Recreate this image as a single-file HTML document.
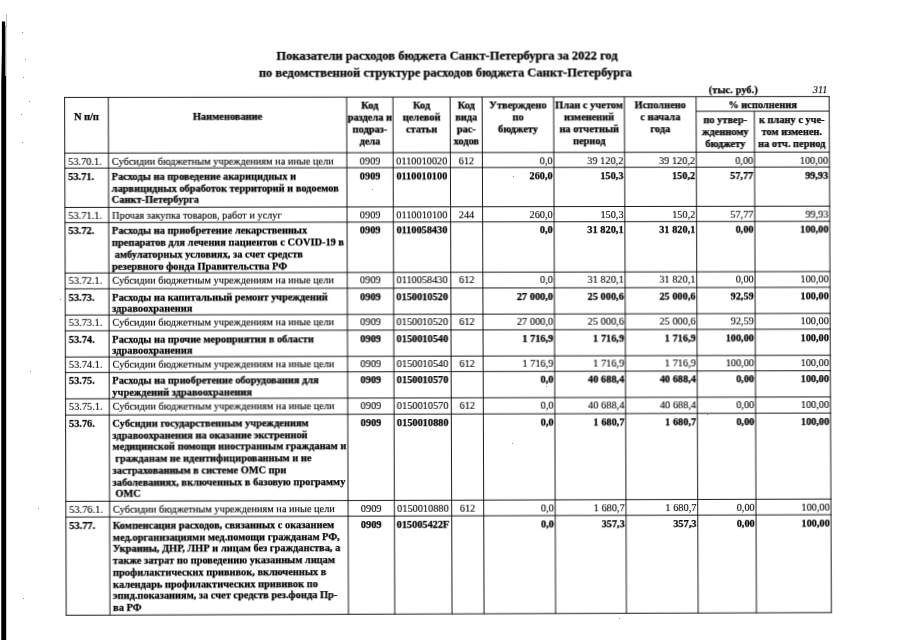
<!DOCTYPE html>
<html lang="ru"><head><meta charset="utf-8"><title>Показатели расходов бюджета Санкт-Петербурга за 2022 год</title>
<style>
html,body{margin:0;padding:0;background:#fff;}
body{width:904px;height:640px;position:relative;overflow:hidden;font-family:"Liberation Serif",serif;color:#000;}
.l{position:absolute;}
.t{position:absolute;white-space:nowrap;}
.t{-webkit-text-stroke:0.12px #000;}
.b{font-weight:bold;-webkit-text-stroke:0.25px #000;}
</style></head><body>
<svg width="20" height="640" viewBox="0 0 20 640" style="position:absolute;left:0;top:0"><polygon points="1.9,21.5 5.1,21.5 5.1,76 6.2,76 6.2,640 1.25,640 1.25,84 1.9,50" fill="#000"/><rect x="5.1" y="26" width="1.2" height="50" fill="#8c8c8c"/><rect x="6.1" y="14" width="0.5" height="13" fill="#777"/></svg>
<div class="l" style="left:22px;top:32px;width:1px;height:1px;background:#8a8a8a"></div>
<div class="l" style="left:25px;top:59px;width:1px;height:1px;background:#8a8a8a"></div>
<div class="l" style="left:23px;top:77px;width:1px;height:1px;background:#8a8a8a"></div>
<div class="l" style="left:29px;top:101px;width:1px;height:1px;background:#8a8a8a"></div>
<div class="l" style="left:21px;top:114px;width:1px;height:1px;background:#8a8a8a"></div>
<div class="l" style="left:22px;top:142px;width:1px;height:1px;background:#8a8a8a"></div>
<div class="l" style="left:38px;top:508px;width:1px;height:1px;background:#8a8a8a"></div>
<div class="l" style="left:23px;top:598px;width:1px;height:1px;background:#8a8a8a"></div>
<div class="l" style="left:372px;top:189px;width:1px;height:1px;background:#8a8a8a"></div>
<div class="l" style="left:513px;top:176px;width:1px;height:1px;background:#8a8a8a"></div>
<div class="l" style="left:60px;top:299px;width:1px;height:1px;background:#8a8a8a"></div>
<div class="l" style="left:30px;top:371px;width:1px;height:1px;background:#8a8a8a"></div>
<div class="l" style="left:546px;top:386px;width:1px;height:1px;background:#8a8a8a"></div>
<div class="l" style="left:512px;top:443px;width:1px;height:1px;background:#8a8a8a"></div>
<div class="l" style="left:707px;top:414px;width:1px;height:1px;background:#8a8a8a"></div>
<div class="l" style="left:619px;top:618px;width:1px;height:1px;background:#8a8a8a"></div>
<div id="pg" style="position:absolute;left:0;top:0;width:904px;height:640px;transform-origin:0 0;transform:matrix3d(1.00392507,-0.00073745108,0,4.55757736e-06,0.0029887496,0.999201834,0,-1.53387719e-06,0,0,1,0,-0.53564426,0.139623742,0,1);filter:contrast(1.6);">
<svg width="904" height="640" viewBox="0 0 904 640" style="position:absolute;left:0;top:0" shape-rendering="geometricPrecision">
<line x1="64.12" y1="97.43" x2="829.68" y2="97.43" stroke="#262626" stroke-width="0.9"/>
<line x1="64.12" y1="153.17" x2="829.68" y2="153.17" stroke="#262626" stroke-width="0.9"/>
<line x1="64.12" y1="168.18" x2="829.68" y2="168.18" stroke="#262626" stroke-width="0.9"/>
<line x1="64.12" y1="207.51" x2="829.68" y2="207.51" stroke="#262626" stroke-width="0.9"/>
<line x1="64.12" y1="222.71" x2="829.68" y2="222.71" stroke="#262626" stroke-width="0.9"/>
<line x1="64.12" y1="273.14" x2="829.68" y2="273.14" stroke="#262626" stroke-width="0.9"/>
<line x1="64.12" y1="288.94" x2="829.68" y2="288.94" stroke="#262626" stroke-width="0.9"/>
<line x1="64.12" y1="315.15" x2="829.68" y2="315.15" stroke="#262626" stroke-width="0.9"/>
<line x1="64.12" y1="330.95" x2="829.68" y2="330.95" stroke="#262626" stroke-width="0.9"/>
<line x1="64.12" y1="357.15" x2="829.68" y2="357.15" stroke="#262626" stroke-width="0.9"/>
<line x1="64.12" y1="372.65" x2="829.68" y2="372.65" stroke="#262626" stroke-width="0.9"/>
<line x1="64.12" y1="398.95" x2="829.68" y2="398.95" stroke="#262626" stroke-width="0.9"/>
<line x1="64.12" y1="415.15" x2="829.68" y2="415.15" stroke="#262626" stroke-width="0.9"/>
<line x1="64.12" y1="501.43" x2="829.68" y2="501.43" stroke="#262626" stroke-width="0.9"/>
<line x1="64.12" y1="517.13" x2="829.68" y2="517.13" stroke="#262626" stroke-width="0.9"/>
<line x1="64.12" y1="615.27" x2="829.68" y2="615.27" stroke="#262626" stroke-width="0.9"/>
<line x1="695.70" y1="112.08" x2="829.18" y2="112.08" stroke="#262626" stroke-width="0.9"/>
<line x1="64.62" y1="97.43" x2="64.62" y2="615.27" stroke="#262626" stroke-width="0.9"/>
<line x1="108.17" y1="97.43" x2="108.17" y2="615.27" stroke="#262626" stroke-width="0.9"/>
<line x1="346.03" y1="97.43" x2="346.03" y2="615.27" stroke="#262626" stroke-width="0.9"/>
<line x1="392.25" y1="97.43" x2="392.25" y2="615.27" stroke="#262626" stroke-width="0.9"/>
<line x1="449.48" y1="97.43" x2="449.48" y2="615.27" stroke="#262626" stroke-width="0.9"/>
<line x1="481.49" y1="97.43" x2="481.49" y2="615.27" stroke="#262626" stroke-width="0.9"/>
<line x1="553.03" y1="97.43" x2="553.03" y2="615.27" stroke="#262626" stroke-width="0.9"/>
<line x1="623.87" y1="97.43" x2="623.87" y2="615.27" stroke="#262626" stroke-width="0.9"/>
<line x1="695.70" y1="97.43" x2="695.70" y2="615.27" stroke="#262626" stroke-width="0.9"/>
<line x1="754.05" y1="112.08" x2="754.05" y2="615.27" stroke="#262626" stroke-width="0.9"/>
<line x1="829.18" y1="97.43" x2="829.18" y2="615.27" stroke="#262626" stroke-width="0.9"/>
</svg>
<div class="t b" style="left:146.67px;width:600.00px;top:47.54px;text-align:center;font-size:12.5px;line-height:17px;">Показатели расходов бюджета Санкт-Петербурга за 2022 год</div>
<div class="t b" style="left:145.01px;width:600.00px;top:65.38px;text-align:center;font-size:12.5px;line-height:17px;">по ведомственной структуре расходов бюджета Санкт-Петербурга</div>
<div class="t b" style="left:708.46px;width:80.00px;top:84.88px;text-align:left;font-size:10.3px;line-height:11.78px;letter-spacing:0.12px;">(тыс. руб.)</div>
<div class="t" style="left:777.51px;width:50.00px;top:84.51px;text-align:right;font-size:10.3px;line-height:11.78px;font-style:italic;">311</div>
<div class="t b" style="left:54.62px;width:63.55px;top:111.20px;text-align:center;font-size:10.4px;line-height:11.78px;">N п/п</div>
<div class="t b" style="left:98.17px;width:257.86px;top:111.20px;text-align:center;font-size:10.4px;line-height:11.78px;">Наименование</div>
<div class="t b" style="left:336.03px;width:66.22px;top:99.70px;text-align:center;font-size:10.4px;line-height:11.78px;">Код</div>
<div class="t b" style="left:336.03px;width:66.22px;top:111.70px;text-align:center;font-size:10.4px;line-height:11.78px;">раздела и</div>
<div class="t b" style="left:336.03px;width:66.22px;top:123.70px;text-align:center;font-size:10.4px;line-height:11.78px;">подраз-</div>
<div class="t b" style="left:336.03px;width:66.22px;top:135.70px;text-align:center;font-size:10.4px;line-height:11.78px;">дела</div>
<div class="t b" style="left:382.25px;width:77.23px;top:99.70px;text-align:center;font-size:10.4px;line-height:11.78px;">Код</div>
<div class="t b" style="left:382.25px;width:77.23px;top:111.70px;text-align:center;font-size:10.4px;line-height:11.78px;">целевой</div>
<div class="t b" style="left:382.25px;width:77.23px;top:123.70px;text-align:center;font-size:10.4px;line-height:11.78px;">статьи</div>
<div class="t b" style="left:439.48px;width:52.00px;top:99.70px;text-align:center;font-size:10.4px;line-height:11.78px;">Код</div>
<div class="t b" style="left:439.48px;width:52.00px;top:111.70px;text-align:center;font-size:10.4px;line-height:11.78px;">вида</div>
<div class="t b" style="left:439.48px;width:52.00px;top:123.70px;text-align:center;font-size:10.4px;line-height:11.78px;">рас-</div>
<div class="t b" style="left:439.48px;width:52.00px;top:135.70px;text-align:center;font-size:10.4px;line-height:11.78px;">ходов</div>
<div class="t b" style="left:471.49px;width:91.54px;top:99.70px;text-align:center;font-size:10.4px;line-height:11.78px;">Утверждено</div>
<div class="t b" style="left:471.49px;width:91.54px;top:111.70px;text-align:center;font-size:10.4px;line-height:11.78px;">по</div>
<div class="t b" style="left:471.49px;width:91.54px;top:123.70px;text-align:center;font-size:10.4px;line-height:11.78px;">бюджету</div>
<div class="t b" style="left:543.03px;width:90.84px;top:99.70px;text-align:center;font-size:10.4px;line-height:11.78px;">План с учетом</div>
<div class="t b" style="left:543.03px;width:90.84px;top:111.70px;text-align:center;font-size:10.4px;line-height:11.78px;">изменений</div>
<div class="t b" style="left:543.03px;width:90.84px;top:123.70px;text-align:center;font-size:10.4px;line-height:11.78px;">на отчетный</div>
<div class="t b" style="left:543.03px;width:90.84px;top:135.70px;text-align:center;font-size:10.4px;line-height:11.78px;">период</div>
<div class="t b" style="left:613.87px;width:91.84px;top:99.70px;text-align:center;font-size:10.4px;line-height:11.78px;">Исполнено</div>
<div class="t b" style="left:613.87px;width:91.84px;top:111.70px;text-align:center;font-size:10.4px;line-height:11.78px;">с начала</div>
<div class="t b" style="left:613.87px;width:91.84px;top:123.70px;text-align:center;font-size:10.4px;line-height:11.78px;">года</div>
<div class="t b" style="left:685.70px;width:153.48px;top:99.90px;text-align:center;font-size:10.4px;line-height:11.78px;">% исполнения</div>
<div class="t b" style="left:685.70px;width:78.34px;top:115.10px;text-align:center;font-size:10.4px;line-height:11.78px;">по утвер-</div>
<div class="t b" style="left:685.70px;width:78.34px;top:127.10px;text-align:center;font-size:10.4px;line-height:11.78px;">жденному</div>
<div class="t b" style="left:685.70px;width:78.34px;top:139.10px;text-align:center;font-size:10.4px;line-height:11.78px;">бюджету</div>
<div class="t b" style="left:744.05px;width:95.13px;top:115.10px;text-align:center;font-size:10.4px;line-height:11.78px;">к плану с уче-</div>
<div class="t b" style="left:744.05px;width:95.13px;top:127.10px;text-align:center;font-size:10.4px;line-height:11.78px;">том изменен.</div>
<div class="t b" style="left:744.05px;width:95.13px;top:139.10px;text-align:center;font-size:10.4px;line-height:11.78px;">на отч. период</div>
<div class="t" style="left:68.02px;width:40.15px;top:155.50px;text-align:left;font-size:10.3px;line-height:11.78px;">53.70.1.</div>
<div class="t" style="left:111.57px;width:254.46px;top:155.50px;text-align:left;font-size:10.3px;line-height:11.78px;">Субсидии бюджетным учреждениям на иные цели</div>
<div class="t" style="left:346.03px;width:46.22px;top:155.50px;text-align:center;font-size:10.3px;line-height:11.78px;">0909</div>
<div class="t" style="left:387.25px;width:67.23px;top:155.50px;text-align:center;font-size:10.3px;line-height:11.78px;">0110010020</div>
<div class="t" style="left:449.48px;width:32.00px;top:155.50px;text-align:center;font-size:10.3px;line-height:11.78px;">612</div>
<div class="t" style="left:481.49px;width:70.24px;top:155.50px;text-align:right;font-size:10.3px;line-height:11.78px;word-spacing:0.2px;">0,0</div>
<div class="t" style="left:553.03px;width:69.54px;top:155.50px;text-align:right;font-size:10.3px;line-height:11.78px;word-spacing:0.2px;">39 120,2</div>
<div class="t" style="left:623.87px;width:70.54px;top:155.50px;text-align:right;font-size:10.3px;line-height:11.78px;word-spacing:0.2px;">39 120,2</div>
<div class="t" style="left:695.70px;width:57.04px;top:155.50px;text-align:right;font-size:10.3px;line-height:11.78px;word-spacing:0.2px;">0,00</div>
<div class="t" style="left:754.05px;width:73.83px;top:155.50px;text-align:right;font-size:10.3px;line-height:11.78px;word-spacing:0.2px;">100,00</div>
<div class="t b" style="left:68.02px;width:40.15px;top:170.82px;text-align:left;font-size:10.3px;line-height:11.78px;">53.71.</div>
<div class="t b" style="left:111.37px;width:254.66px;top:170.79px;text-align:left;font-size:10.37px;line-height:11.78px;">Расходы на проведение акарицидных и</div>
<div class="t b" style="left:111.37px;width:254.66px;top:182.57px;text-align:left;font-size:10.37px;line-height:11.78px;">ларвицидных обработок территорий и водоемов</div>
<div class="t b" style="left:111.37px;width:254.66px;top:194.35px;text-align:left;font-size:10.37px;line-height:11.78px;">Санкт-Петербурга</div>
<div class="t b" style="left:346.03px;width:46.22px;top:170.82px;text-align:center;font-size:10.3px;line-height:11.78px;">0909</div>
<div class="t b" style="left:387.25px;width:67.23px;top:170.82px;text-align:center;font-size:10.3px;line-height:11.78px;">0110010100</div>
<div class="t b" style="left:481.49px;width:70.24px;top:170.82px;text-align:right;font-size:10.3px;line-height:11.78px;word-spacing:0.2px;">260,0</div>
<div class="t b" style="left:553.03px;width:69.54px;top:170.82px;text-align:right;font-size:10.3px;line-height:11.78px;word-spacing:0.2px;">150,3</div>
<div class="t b" style="left:623.87px;width:70.54px;top:170.82px;text-align:right;font-size:10.3px;line-height:11.78px;word-spacing:0.2px;">150,2</div>
<div class="t b" style="left:695.70px;width:57.04px;top:170.82px;text-align:right;font-size:10.3px;line-height:11.78px;word-spacing:0.2px;">57,77</div>
<div class="t b" style="left:754.05px;width:73.83px;top:170.82px;text-align:right;font-size:10.3px;line-height:11.78px;word-spacing:0.2px;">99,93</div>
<div class="t" style="left:68.02px;width:40.15px;top:209.84px;text-align:left;font-size:10.3px;line-height:11.78px;">53.71.1.</div>
<div class="t" style="left:111.57px;width:254.46px;top:209.84px;text-align:left;font-size:10.3px;line-height:11.78px;">Прочая закупка товаров, работ и услуг</div>
<div class="t" style="left:346.03px;width:46.22px;top:209.84px;text-align:center;font-size:10.3px;line-height:11.78px;">0909</div>
<div class="t" style="left:387.25px;width:67.23px;top:209.84px;text-align:center;font-size:10.3px;line-height:11.78px;">0110010100</div>
<div class="t" style="left:449.48px;width:32.00px;top:209.84px;text-align:center;font-size:10.3px;line-height:11.78px;">244</div>
<div class="t" style="left:481.49px;width:70.24px;top:209.84px;text-align:right;font-size:10.3px;line-height:11.78px;word-spacing:0.2px;">260,0</div>
<div class="t" style="left:553.03px;width:69.54px;top:209.84px;text-align:right;font-size:10.3px;line-height:11.78px;word-spacing:0.2px;">150,3</div>
<div class="t" style="left:623.87px;width:70.54px;top:209.84px;text-align:right;font-size:10.3px;line-height:11.78px;word-spacing:0.2px;">150,2</div>
<div class="t" style="left:695.70px;width:57.04px;top:209.84px;text-align:right;font-size:10.3px;line-height:11.78px;word-spacing:0.2px;">57,77</div>
<div class="t" style="left:754.05px;width:73.83px;top:209.84px;text-align:right;font-size:10.3px;line-height:11.78px;word-spacing:0.2px;">99,93</div>
<div class="t b" style="left:68.02px;width:40.15px;top:225.35px;text-align:left;font-size:10.3px;line-height:11.78px;">53.72.</div>
<div class="t b" style="left:111.37px;width:254.66px;top:225.32px;text-align:left;font-size:10.37px;line-height:11.78px;">Расходы на приобретение лекарственных</div>
<div class="t b" style="left:111.37px;width:254.66px;top:237.10px;text-align:left;font-size:10.37px;line-height:11.78px;">препаратов для лечения пациентов с COVID-19 в</div>
<div class="t b" style="left:111.37px;width:254.66px;top:248.88px;text-align:left;font-size:10.37px;line-height:11.78px;">&nbsp;амбулаторных условиях, за счет средств</div>
<div class="t b" style="left:111.37px;width:254.66px;top:260.66px;text-align:left;font-size:10.37px;line-height:11.78px;">резервного фонда Правительства РФ</div>
<div class="t b" style="left:346.03px;width:46.22px;top:225.35px;text-align:center;font-size:10.3px;line-height:11.78px;">0909</div>
<div class="t b" style="left:387.25px;width:67.23px;top:225.35px;text-align:center;font-size:10.3px;line-height:11.78px;">0110058430</div>
<div class="t b" style="left:481.49px;width:70.24px;top:225.35px;text-align:right;font-size:10.3px;line-height:11.78px;word-spacing:0.2px;">0,0</div>
<div class="t b" style="left:553.03px;width:69.54px;top:225.35px;text-align:right;font-size:10.3px;line-height:11.78px;word-spacing:0.2px;">31 820,1</div>
<div class="t b" style="left:623.87px;width:70.54px;top:225.35px;text-align:right;font-size:10.3px;line-height:11.78px;word-spacing:0.2px;">31 820,1</div>
<div class="t b" style="left:695.70px;width:57.04px;top:225.35px;text-align:right;font-size:10.3px;line-height:11.78px;word-spacing:0.2px;">0,00</div>
<div class="t b" style="left:754.05px;width:73.83px;top:225.35px;text-align:right;font-size:10.3px;line-height:11.78px;word-spacing:0.2px;">100,00</div>
<div class="t" style="left:68.02px;width:40.15px;top:275.47px;text-align:left;font-size:10.3px;line-height:11.78px;">53.72.1.</div>
<div class="t" style="left:111.57px;width:254.46px;top:275.47px;text-align:left;font-size:10.3px;line-height:11.78px;">Субсидии бюджетным учреждениям на иные цели</div>
<div class="t" style="left:346.03px;width:46.22px;top:275.47px;text-align:center;font-size:10.3px;line-height:11.78px;">0909</div>
<div class="t" style="left:387.25px;width:67.23px;top:275.47px;text-align:center;font-size:10.3px;line-height:11.78px;">0110058430</div>
<div class="t" style="left:449.48px;width:32.00px;top:275.47px;text-align:center;font-size:10.3px;line-height:11.78px;">612</div>
<div class="t" style="left:481.49px;width:70.24px;top:275.47px;text-align:right;font-size:10.3px;line-height:11.78px;word-spacing:0.2px;">0,0</div>
<div class="t" style="left:553.03px;width:69.54px;top:275.47px;text-align:right;font-size:10.3px;line-height:11.78px;word-spacing:0.2px;">31 820,1</div>
<div class="t" style="left:623.87px;width:70.54px;top:275.47px;text-align:right;font-size:10.3px;line-height:11.78px;word-spacing:0.2px;">31 820,1</div>
<div class="t" style="left:695.70px;width:57.04px;top:275.47px;text-align:right;font-size:10.3px;line-height:11.78px;word-spacing:0.2px;">0,00</div>
<div class="t" style="left:754.05px;width:73.83px;top:275.47px;text-align:right;font-size:10.3px;line-height:11.78px;word-spacing:0.2px;">100,00</div>
<div class="t b" style="left:68.02px;width:40.15px;top:291.57px;text-align:left;font-size:10.3px;line-height:11.78px;">53.73.</div>
<div class="t b" style="left:111.37px;width:254.66px;top:291.55px;text-align:left;font-size:10.37px;line-height:11.78px;">Расходы на капитальный ремонт учреждений</div>
<div class="t b" style="left:111.37px;width:254.66px;top:303.33px;text-align:left;font-size:10.37px;line-height:11.78px;">здравоохранения</div>
<div class="t b" style="left:346.03px;width:46.22px;top:291.57px;text-align:center;font-size:10.3px;line-height:11.78px;">0909</div>
<div class="t b" style="left:387.25px;width:67.23px;top:291.57px;text-align:center;font-size:10.3px;line-height:11.78px;">0150010520</div>
<div class="t b" style="left:481.49px;width:70.24px;top:291.57px;text-align:right;font-size:10.3px;line-height:11.78px;word-spacing:0.2px;">27 000,0</div>
<div class="t b" style="left:553.03px;width:69.54px;top:291.57px;text-align:right;font-size:10.3px;line-height:11.78px;word-spacing:0.2px;">25 000,6</div>
<div class="t b" style="left:623.87px;width:70.54px;top:291.57px;text-align:right;font-size:10.3px;line-height:11.78px;word-spacing:0.2px;">25 000,6</div>
<div class="t b" style="left:695.70px;width:57.04px;top:291.57px;text-align:right;font-size:10.3px;line-height:11.78px;word-spacing:0.2px;">92,59</div>
<div class="t b" style="left:754.05px;width:73.83px;top:291.57px;text-align:right;font-size:10.3px;line-height:11.78px;word-spacing:0.2px;">100,00</div>
<div class="t" style="left:68.02px;width:40.15px;top:317.48px;text-align:left;font-size:10.3px;line-height:11.78px;">53.73.1.</div>
<div class="t" style="left:111.57px;width:254.46px;top:317.48px;text-align:left;font-size:10.3px;line-height:11.78px;">Субсидии бюджетным учреждениям на иные цели</div>
<div class="t" style="left:346.03px;width:46.22px;top:317.48px;text-align:center;font-size:10.3px;line-height:11.78px;">0909</div>
<div class="t" style="left:387.25px;width:67.23px;top:317.48px;text-align:center;font-size:10.3px;line-height:11.78px;">0150010520</div>
<div class="t" style="left:449.48px;width:32.00px;top:317.48px;text-align:center;font-size:10.3px;line-height:11.78px;">612</div>
<div class="t" style="left:481.49px;width:70.24px;top:317.48px;text-align:right;font-size:10.3px;line-height:11.78px;word-spacing:0.2px;">27 000,0</div>
<div class="t" style="left:553.03px;width:69.54px;top:317.48px;text-align:right;font-size:10.3px;line-height:11.78px;word-spacing:0.2px;">25 000,6</div>
<div class="t" style="left:623.87px;width:70.54px;top:317.48px;text-align:right;font-size:10.3px;line-height:11.78px;word-spacing:0.2px;">25 000,6</div>
<div class="t" style="left:695.70px;width:57.04px;top:317.48px;text-align:right;font-size:10.3px;line-height:11.78px;word-spacing:0.2px;">92,59</div>
<div class="t" style="left:754.05px;width:73.83px;top:317.48px;text-align:right;font-size:10.3px;line-height:11.78px;word-spacing:0.2px;">100,00</div>
<div class="t b" style="left:68.02px;width:40.15px;top:333.58px;text-align:left;font-size:10.3px;line-height:11.78px;">53.74.</div>
<div class="t b" style="left:111.37px;width:254.66px;top:333.56px;text-align:left;font-size:10.37px;line-height:11.78px;">Расходы на прочие мероприятия в области</div>
<div class="t b" style="left:111.37px;width:254.66px;top:345.34px;text-align:left;font-size:10.37px;line-height:11.78px;">здравоохранения</div>
<div class="t b" style="left:346.03px;width:46.22px;top:333.58px;text-align:center;font-size:10.3px;line-height:11.78px;">0909</div>
<div class="t b" style="left:387.25px;width:67.23px;top:333.58px;text-align:center;font-size:10.3px;line-height:11.78px;">0150010540</div>
<div class="t b" style="left:481.49px;width:70.24px;top:333.58px;text-align:right;font-size:10.3px;line-height:11.78px;word-spacing:0.2px;">1 716,9</div>
<div class="t b" style="left:553.03px;width:69.54px;top:333.58px;text-align:right;font-size:10.3px;line-height:11.78px;word-spacing:0.2px;">1 716,9</div>
<div class="t b" style="left:623.87px;width:70.54px;top:333.58px;text-align:right;font-size:10.3px;line-height:11.78px;word-spacing:0.2px;">1 716,9</div>
<div class="t b" style="left:695.70px;width:57.04px;top:333.58px;text-align:right;font-size:10.3px;line-height:11.78px;word-spacing:0.2px;">100,00</div>
<div class="t b" style="left:754.05px;width:73.83px;top:333.58px;text-align:right;font-size:10.3px;line-height:11.78px;word-spacing:0.2px;">100,00</div>
<div class="t" style="left:68.02px;width:40.15px;top:359.49px;text-align:left;font-size:10.3px;line-height:11.78px;">53.74.1.</div>
<div class="t" style="left:111.57px;width:254.46px;top:359.49px;text-align:left;font-size:10.3px;line-height:11.78px;">Субсидии бюджетным учреждениям на иные цели</div>
<div class="t" style="left:346.03px;width:46.22px;top:359.49px;text-align:center;font-size:10.3px;line-height:11.78px;">0909</div>
<div class="t" style="left:387.25px;width:67.23px;top:359.49px;text-align:center;font-size:10.3px;line-height:11.78px;">0150010540</div>
<div class="t" style="left:449.48px;width:32.00px;top:359.49px;text-align:center;font-size:10.3px;line-height:11.78px;">612</div>
<div class="t" style="left:481.49px;width:70.24px;top:359.49px;text-align:right;font-size:10.3px;line-height:11.78px;word-spacing:0.2px;">1 716,9</div>
<div class="t" style="left:553.03px;width:69.54px;top:359.49px;text-align:right;font-size:10.3px;line-height:11.78px;word-spacing:0.2px;">1 716,9</div>
<div class="t" style="left:623.87px;width:70.54px;top:359.49px;text-align:right;font-size:10.3px;line-height:11.78px;word-spacing:0.2px;">1 716,9</div>
<div class="t" style="left:695.70px;width:57.04px;top:359.49px;text-align:right;font-size:10.3px;line-height:11.78px;word-spacing:0.2px;">100,00</div>
<div class="t" style="left:754.05px;width:73.83px;top:359.49px;text-align:right;font-size:10.3px;line-height:11.78px;word-spacing:0.2px;">100,00</div>
<div class="t b" style="left:68.02px;width:40.15px;top:375.29px;text-align:left;font-size:10.3px;line-height:11.78px;">53.75.</div>
<div class="t b" style="left:111.37px;width:254.66px;top:375.26px;text-align:left;font-size:10.37px;line-height:11.78px;">Расходы на приобретение оборудования для</div>
<div class="t b" style="left:111.37px;width:254.66px;top:387.04px;text-align:left;font-size:10.37px;line-height:11.78px;">учреждений здравоохранения</div>
<div class="t b" style="left:346.03px;width:46.22px;top:375.29px;text-align:center;font-size:10.3px;line-height:11.78px;">0909</div>
<div class="t b" style="left:387.25px;width:67.23px;top:375.29px;text-align:center;font-size:10.3px;line-height:11.78px;">0150010570</div>
<div class="t b" style="left:481.49px;width:70.24px;top:375.29px;text-align:right;font-size:10.3px;line-height:11.78px;word-spacing:0.2px;">0,0</div>
<div class="t b" style="left:553.03px;width:69.54px;top:375.29px;text-align:right;font-size:10.3px;line-height:11.78px;word-spacing:0.2px;">40 688,4</div>
<div class="t b" style="left:623.87px;width:70.54px;top:375.29px;text-align:right;font-size:10.3px;line-height:11.78px;word-spacing:0.2px;">40 688,4</div>
<div class="t b" style="left:695.70px;width:57.04px;top:375.29px;text-align:right;font-size:10.3px;line-height:11.78px;word-spacing:0.2px;">0,00</div>
<div class="t b" style="left:754.05px;width:73.83px;top:375.29px;text-align:right;font-size:10.3px;line-height:11.78px;word-spacing:0.2px;">100,00</div>
<div class="t" style="left:68.02px;width:40.15px;top:401.29px;text-align:left;font-size:10.3px;line-height:11.78px;">53.75.1.</div>
<div class="t" style="left:111.57px;width:254.46px;top:401.29px;text-align:left;font-size:10.3px;line-height:11.78px;">Субсидии бюджетным учреждениям на иные цели</div>
<div class="t" style="left:346.03px;width:46.22px;top:401.29px;text-align:center;font-size:10.3px;line-height:11.78px;">0909</div>
<div class="t" style="left:387.25px;width:67.23px;top:401.29px;text-align:center;font-size:10.3px;line-height:11.78px;">0150010570</div>
<div class="t" style="left:449.48px;width:32.00px;top:401.29px;text-align:center;font-size:10.3px;line-height:11.78px;">612</div>
<div class="t" style="left:481.49px;width:70.24px;top:401.29px;text-align:right;font-size:10.3px;line-height:11.78px;word-spacing:0.2px;">0,0</div>
<div class="t" style="left:553.03px;width:69.54px;top:401.29px;text-align:right;font-size:10.3px;line-height:11.78px;word-spacing:0.2px;">40 688,4</div>
<div class="t" style="left:623.87px;width:70.54px;top:401.29px;text-align:right;font-size:10.3px;line-height:11.78px;word-spacing:0.2px;">40 688,4</div>
<div class="t" style="left:695.70px;width:57.04px;top:401.29px;text-align:right;font-size:10.3px;line-height:11.78px;word-spacing:0.2px;">0,00</div>
<div class="t" style="left:754.05px;width:73.83px;top:401.29px;text-align:right;font-size:10.3px;line-height:11.78px;word-spacing:0.2px;">100,00</div>
<div class="t b" style="left:68.02px;width:40.15px;top:417.79px;text-align:left;font-size:10.3px;line-height:11.78px;">53.76.</div>
<div class="t b" style="left:111.37px;width:254.66px;top:417.76px;text-align:left;font-size:10.37px;line-height:11.78px;">Субсидии государственным учреждениям</div>
<div class="t b" style="left:111.37px;width:254.66px;top:429.54px;text-align:left;font-size:10.37px;line-height:11.78px;">здравоохранения на оказание экстренной</div>
<div class="t b" style="left:111.37px;width:254.66px;top:441.32px;text-align:left;font-size:10.37px;line-height:11.78px;">медицинской помощи иностранным гражданам и</div>
<div class="t b" style="left:111.37px;width:254.66px;top:453.10px;text-align:left;font-size:10.37px;line-height:11.78px;">&nbsp;гражданам не идентифицированным и не</div>
<div class="t b" style="left:111.37px;width:254.66px;top:464.88px;text-align:left;font-size:10.37px;line-height:11.78px;">застрахованным в системе ОМС при</div>
<div class="t b" style="left:111.37px;width:254.66px;top:476.66px;text-align:left;font-size:10.37px;line-height:11.78px;">заболеваниях, включенных в базовую программу</div>
<div class="t b" style="left:111.37px;width:254.66px;top:488.44px;text-align:left;font-size:10.37px;line-height:11.78px;">&nbsp;ОМС</div>
<div class="t b" style="left:346.03px;width:46.22px;top:417.79px;text-align:center;font-size:10.3px;line-height:11.78px;">0909</div>
<div class="t b" style="left:387.25px;width:67.23px;top:417.79px;text-align:center;font-size:10.3px;line-height:11.78px;">0150010880</div>
<div class="t b" style="left:481.49px;width:70.24px;top:417.79px;text-align:right;font-size:10.3px;line-height:11.78px;word-spacing:0.2px;">0,0</div>
<div class="t b" style="left:553.03px;width:69.54px;top:417.79px;text-align:right;font-size:10.3px;line-height:11.78px;word-spacing:0.2px;">1 680,7</div>
<div class="t b" style="left:623.87px;width:70.54px;top:417.79px;text-align:right;font-size:10.3px;line-height:11.78px;word-spacing:0.2px;">1 680,7</div>
<div class="t b" style="left:695.70px;width:57.04px;top:417.79px;text-align:right;font-size:10.3px;line-height:11.78px;word-spacing:0.2px;">0,00</div>
<div class="t b" style="left:754.05px;width:73.83px;top:417.79px;text-align:right;font-size:10.3px;line-height:11.78px;word-spacing:0.2px;">100,00</div>
<div class="t" style="left:68.02px;width:40.15px;top:503.77px;text-align:left;font-size:10.3px;line-height:11.78px;">53.76.1.</div>
<div class="t" style="left:111.57px;width:254.46px;top:503.77px;text-align:left;font-size:10.3px;line-height:11.78px;">Субсидии бюджетным учреждениям на иные цели</div>
<div class="t" style="left:346.03px;width:46.22px;top:503.77px;text-align:center;font-size:10.3px;line-height:11.78px;">0909</div>
<div class="t" style="left:387.25px;width:67.23px;top:503.77px;text-align:center;font-size:10.3px;line-height:11.78px;">0150010880</div>
<div class="t" style="left:449.48px;width:32.00px;top:503.77px;text-align:center;font-size:10.3px;line-height:11.78px;">612</div>
<div class="t" style="left:481.49px;width:70.24px;top:503.77px;text-align:right;font-size:10.3px;line-height:11.78px;word-spacing:0.2px;">0,0</div>
<div class="t" style="left:553.03px;width:69.54px;top:503.77px;text-align:right;font-size:10.3px;line-height:11.78px;word-spacing:0.2px;">1 680,7</div>
<div class="t" style="left:623.87px;width:70.54px;top:503.77px;text-align:right;font-size:10.3px;line-height:11.78px;word-spacing:0.2px;">1 680,7</div>
<div class="t" style="left:695.70px;width:57.04px;top:503.77px;text-align:right;font-size:10.3px;line-height:11.78px;word-spacing:0.2px;">0,00</div>
<div class="t" style="left:754.05px;width:73.83px;top:503.77px;text-align:right;font-size:10.3px;line-height:11.78px;word-spacing:0.2px;">100,00</div>
<div class="t b" style="left:68.02px;width:40.15px;top:519.76px;text-align:left;font-size:10.3px;line-height:11.78px;">53.77.</div>
<div class="t b" style="left:111.37px;width:254.66px;top:519.74px;text-align:left;font-size:10.37px;line-height:11.78px;">Компенсация расходов, связанных с оказанием</div>
<div class="t b" style="left:111.37px;width:254.66px;top:531.52px;text-align:left;font-size:10.37px;line-height:11.78px;">мед.организациями мед.помощи гражданам РФ,</div>
<div class="t b" style="left:111.37px;width:254.66px;top:543.30px;text-align:left;font-size:10.37px;line-height:11.78px;">Украины, ДНР, ЛНР и лицам без гражданства, а</div>
<div class="t b" style="left:111.37px;width:254.66px;top:555.08px;text-align:left;font-size:10.37px;line-height:11.78px;">также затрат по проведению указанным лицам</div>
<div class="t b" style="left:111.37px;width:254.66px;top:566.86px;text-align:left;font-size:10.37px;line-height:11.78px;">профилактических прививок, включенных в</div>
<div class="t b" style="left:111.37px;width:254.66px;top:578.64px;text-align:left;font-size:10.37px;line-height:11.78px;">календарь профилактических прививок по</div>
<div class="t b" style="left:111.37px;width:254.66px;top:590.42px;text-align:left;font-size:10.37px;line-height:11.78px;">эпид.показаниям, за счет средств рез.фонда Пр-</div>
<div class="t b" style="left:111.37px;width:254.66px;top:602.20px;text-align:left;font-size:10.37px;line-height:11.78px;">ва РФ</div>
<div class="t b" style="left:346.03px;width:46.22px;top:519.76px;text-align:center;font-size:10.3px;line-height:11.78px;">0909</div>
<div class="t b" style="left:387.25px;width:67.23px;top:519.76px;text-align:center;font-size:10.3px;line-height:11.78px;">015005422F</div>
<div class="t b" style="left:481.49px;width:70.24px;top:519.76px;text-align:right;font-size:10.3px;line-height:11.78px;word-spacing:0.2px;">0,0</div>
<div class="t b" style="left:553.03px;width:69.54px;top:519.76px;text-align:right;font-size:10.3px;line-height:11.78px;word-spacing:0.2px;">357,3</div>
<div class="t b" style="left:623.87px;width:70.54px;top:519.76px;text-align:right;font-size:10.3px;line-height:11.78px;word-spacing:0.2px;">357,3</div>
<div class="t b" style="left:695.70px;width:57.04px;top:519.76px;text-align:right;font-size:10.3px;line-height:11.78px;word-spacing:0.2px;">0,00</div>
<div class="t b" style="left:754.05px;width:73.83px;top:519.76px;text-align:right;font-size:10.3px;line-height:11.78px;word-spacing:0.2px;">100,00</div>
</div>
</body></html>
